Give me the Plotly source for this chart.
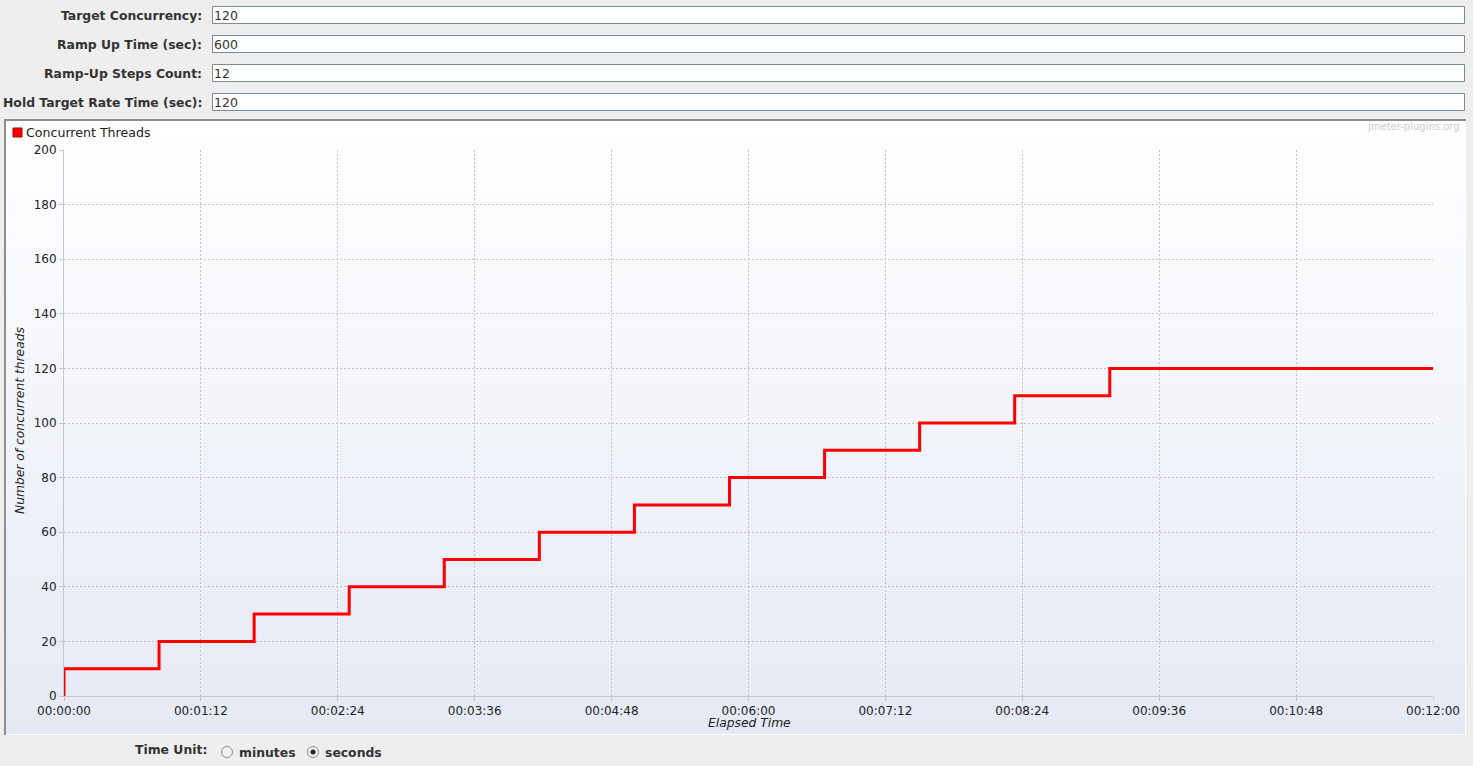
import plotly.graph_objects as go

# ---- data ----
elapsed_sec = [0, 0, 50, 100, 150, 200, 250, 300, 350, 400, 450, 500, 550, 720]
threads = [0, 10, 20, 30, 40, 50, 60, 70, 80, 90, 100, 110, 120, 120]
x_tickvals = [0, 72, 144, 216, 288, 360, 432, 504, 576, 648, 720]
x_ticktext = ["00:00:00", "00:01:12", "00:02:24", "00:03:36", "00:04:48", "00:06:00",
              "00:07:12", "00:08:24", "00:09:36", "00:10:48", "00:12:00"]
y_tickvals = [0, 20, 40, 60, 80, 100, 120, 140, 160, 180, 200]
field_labels = ["Target Concurrency:", "Ramp Up Time (sec):", "Ramp-Up Steps Count:",
                "Hold Target Rate Time (sec):"]
field_values = ["120", "600", "12", "120"]
series_name = "Concurrent Threads"

W, H = 1473, 766
L, R, T, B = 64, 1433, 150, 696  # plot area in pixels


def px(x):
    return (x - L) / (R - L)


def py(y):
    return (B - y) / (B - T)


FONT = "DejaVu Sans"
shapes = []
annotations = []

# panel gradient
top_c = (255, 255, 255)
bot_c = (228, 233, 244)
y0, y1 = 121, 734
n = 70
for i in range(n):
    a = y0 + (y1 - y0) * i / n
    b = y0 + (y1 - y0) * (i + 1) / n
    t = (i + 0.5) / n
    c = tuple(round(top_c[k] + (bot_c[k] - top_c[k]) * t) for k in range(3))
    shapes.append(dict(type="rect", xref="paper", yref="paper", x0=px(6), x1=px(1465),
                       y0=py(b + 0.5), y1=py(a), fillcolor="rgb(%d,%d,%d)" % c,
                       line=dict(width=0), layer="below"))
# panel borders
shapes.append(dict(type="line", xref="paper", yref="paper", x0=px(4), x1=px(1466), y0=py(120), y1=py(120),
                   line=dict(color="#8e8e8e", width=2), layer="below"))
shapes.append(dict(type="line", xref="paper", yref="paper", x0=px(5), x1=px(5), y0=py(120), y1=py(735),
                   line=dict(color="#8e8e8e", width=2), layer="below"))
shapes.append(dict(type="line", xref="paper", yref="paper", x0=px(1465.5), x1=px(1465.5), y0=py(121), y1=py(735.5),
                   line=dict(color="#ffffff", width=1), layer="below"))
shapes.append(dict(type="line", xref="paper", yref="paper", x0=px(6), x1=px(1466), y0=py(734.5), y1=py(734.5),
                   line=dict(color="#ffffff", width=1), layer="below"))

# text fields
field_tops = [6, 35, 64, 93]
for lab, val, ft in zip(field_labels, field_values, field_tops):
    shapes.append(dict(type="rect", xref="paper", yref="paper", x0=px(212.5), x1=px(1464.5),
                       y0=py(ft + 17.5), y1=py(ft + 0.5), fillcolor="#ffffff",
                       line=dict(color="#7b8b9c", width=1), layer="below"))
    annotations.append(dict(xref="paper", yref="paper", x=px(204), y=py(ft + 9), text="<b>%s</b>" % lab,
                            showarrow=False, xanchor="right", yanchor="middle",
                            font=dict(family=FONT, size=12.4, color="#333333")))
    annotations.append(dict(xref="paper", yref="paper", x=px(212), y=py(ft + 9.5), text=val,
                            showarrow=False, xanchor="left", yanchor="middle",
                            font=dict(family=FONT, size=12.5, color="#333333")))

# legend (square + text)
shapes.append(dict(type="rect", xref="paper", yref="paper", x0=px(13), x1=px(22), y0=py(137), y1=py(128),
                   fillcolor="#ff0000", line=dict(color="#aa0000", width=1)))
annotations.append(dict(xref="paper", yref="paper", x=px(24), y=py(132.5), text=series_name,
                        showarrow=False, xanchor="left", yanchor="middle",
                        font=dict(family=FONT, size=12.6, color="#222222")))
# watermark
annotations.append(dict(xref="paper", yref="paper", x=px(1462), y=py(127), text="jmeter-plugins.org",
                        showarrow=False, xanchor="right", yanchor="middle",
                        font=dict(family=FONT, size=10, color="#c9ced6")))
# axis titles
annotations.append(dict(xref="paper", yref="paper", x=px(20), y=py(421), text="<i>Number of concurrent threads</i>",
                        showarrow=False, textangle=-90, xanchor="center", yanchor="middle",
                        font=dict(family=FONT, size=12.3, color="#222222")))
annotations.append(dict(xref="paper", yref="paper", x=px(749), y=py(723), text="<i>Elapsed Time</i>",
                        showarrow=False, xanchor="center", yanchor="middle",
                        font=dict(family=FONT, size=12.3, color="#222222")))

# bottom radio controls
annotations.append(dict(xref="paper", yref="paper", x=px(209), y=py(749), text="<b>Time Unit:</b>",
                        showarrow=False, xanchor="right", yanchor="middle",
                        font=dict(family=FONT, size=12.4, color="#333333")))
for cx, lab, sel in [(227, "minutes", False), (313, "seconds", True)]:
    shapes.append(dict(type="circle", xref="paper", yref="paper", x0=px(cx - 5.5), x1=px(cx + 5.5),
                       y0=py(752 + 5.5), y1=py(752 - 5.5), fillcolor="#f2f2f2",
                       line=dict(color="#8a8a8a", width=1)))
    if sel:
        shapes.append(dict(type="circle", xref="paper", yref="paper", x0=px(cx - 2.5), x1=px(cx + 2.5),
                           y0=py(752 + 2.5), y1=py(752 - 2.5), fillcolor="#222222",
                           line=dict(color="#222222", width=0)))
    annotations.append(dict(xref="paper", yref="paper", x=px(cx + 10), y=py(752), text="<b>%s</b>" % lab,
                            showarrow=False, xanchor="left", yanchor="middle",
                            font=dict(family=FONT, size=12.4, color="#333333")))

fig = go.Figure()
fig.add_trace(go.Scatter(x=elapsed_sec, y=threads, mode="lines", line_shape="hv",
                         line=dict(color="#ff0000", width=3), name=series_name,
                         showlegend=False, cliponaxis=False, hoverinfo="skip"))

axis_common = dict(showline=True, linecolor="#c2c7d0", linewidth=1, ticks="outside", ticklen=4,
                   tickcolor="#c2c7d0", showgrid=True, gridcolor="#c4c4c4", griddash="2px,2px",
                   gridwidth=1, zeroline=False, tickfont=dict(family=FONT, size=12, color="#222222"))
fig.update_layout(
    width=W, height=H, autosize=False,
    margin=dict(l=L, r=W - R, t=T, b=H - B, pad=0),
    paper_bgcolor="#eeeeee", plot_bgcolor="rgba(0,0,0,0)",
    xaxis=dict(range=[0, 720], tickvals=x_tickvals, ticktext=x_ticktext, **axis_common),
    yaxis=dict(range=[0, 200], tickvals=y_tickvals, **axis_common),
    shapes=shapes, annotations=annotations, showlegend=False,
)
fig.write_html("out.html", config={"displayModeBar": False},
               post_script="document.body.style.margin='0';document.body.style.background='#eeeeee';")
